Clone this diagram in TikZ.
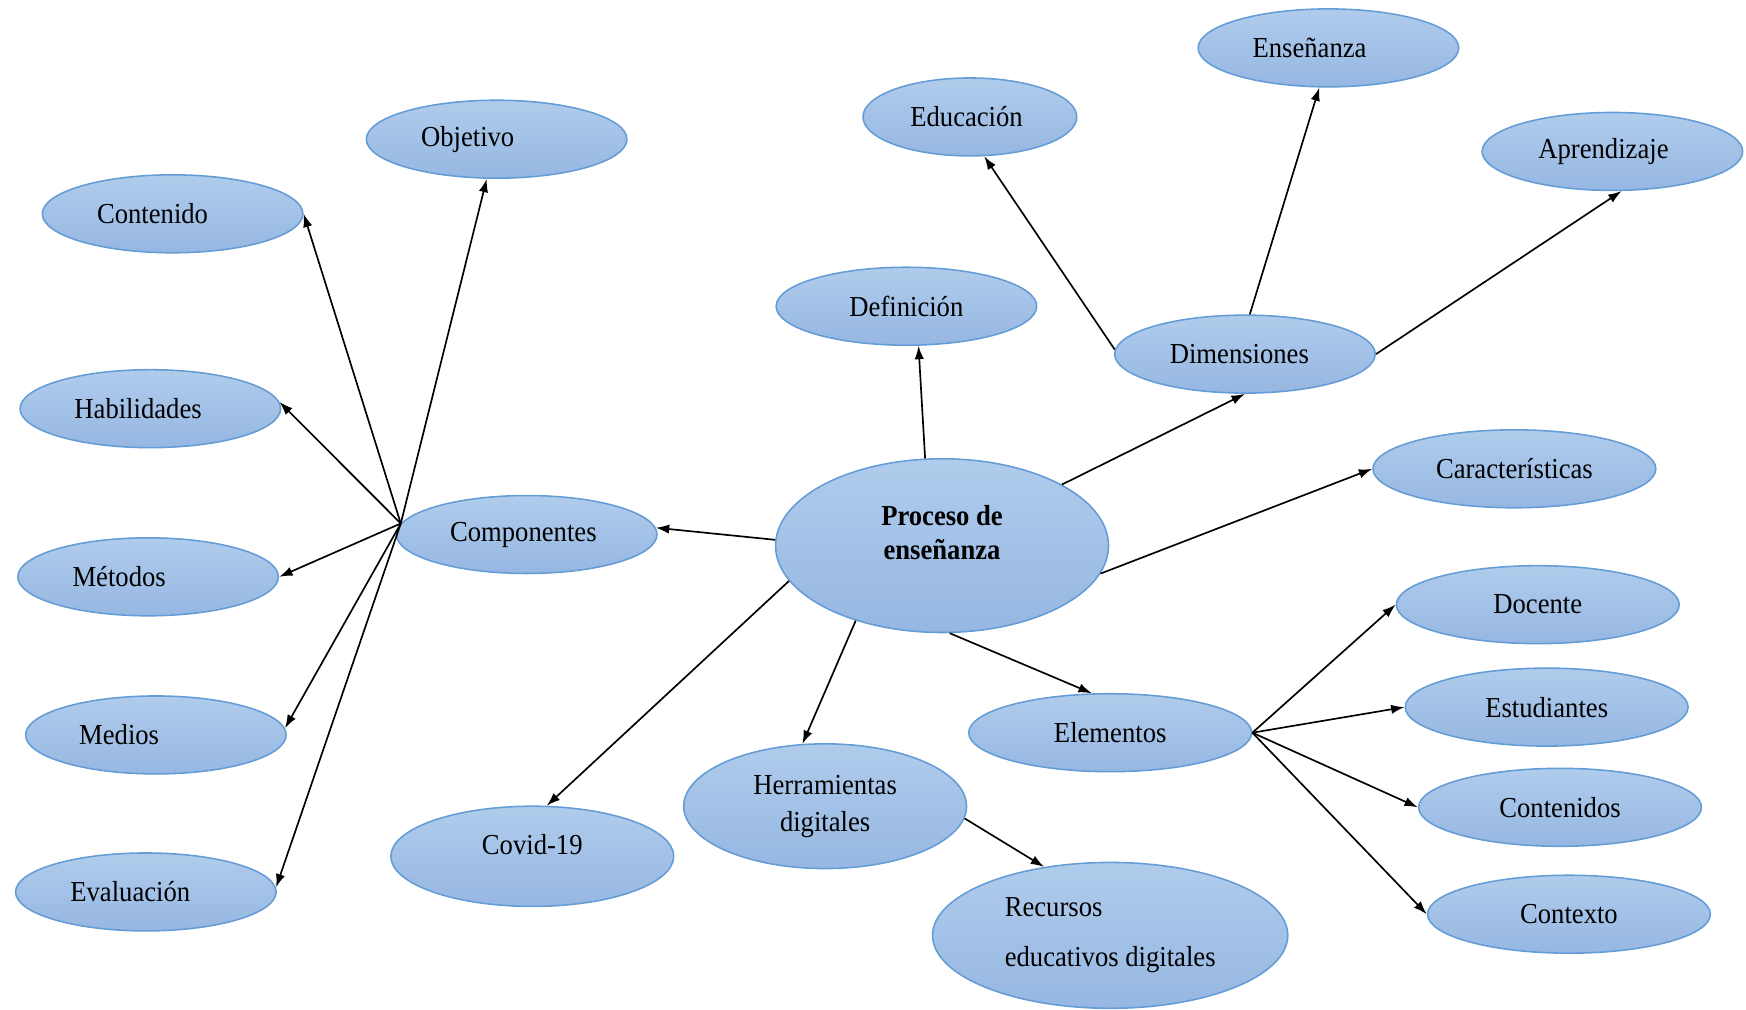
\documentclass[tikz,border=0pt]{standalone}
\usepackage{fontspec}
\setmainfont[FakeStretch=0.92]{Liberation Serif}
\usepackage{tikz}
\usetikzlibrary{shapes.geometric,arrows.meta}

\definecolor{bubline}{RGB}{100,156,214}
\definecolor{bubtop}{RGB}{176,204,236}
\definecolor{bubbot}{RGB}{150,183,226}

\newcommand{\lbl}[2]{\makebox[0pt]{\hspace*{#1}#2\hspace*{-#1}}}

\tikzset{
  bub/.style={ellipse, draw=bubline, line width=0.7pt, top color=bubtop, bottom color=bubbot,
    inner sep=0pt, minimum width=117pt, minimum height=35pt, font=\fontsize{13}{15}\selectfont},
  widebub/.style={bub, minimum width=127pt},
  link/.style={-{Latex[length=6pt,width=4.2pt]}, line width=0.75pt}
}

\begin{document}
\begin{tikzpicture}[x=0.5pt, y=-0.5pt]
    \useasboundingbox (0,0) rectangle (1568,907);

    \node[bub, minimum width=149.5pt, minimum height=78pt, align=center, text depth=12pt,
          font=\fontsize{13}{15}\selectfont\bfseries] (proc) at (846,490) {Proceso de\\enseñanza};

    \node[bub] (comp) at (473,480) {\lbl{-1.5pt}{Componentes}};
    \node[bub] (obj) at (446,125) {\lbl{-13pt}{Objetivo}};
    \node[bub] (cnt) at (155,192) {\lbl{-9pt}{Contenido}};
    \node[bub] (hab) at (135,367) {\lbl{-5.5pt}{Habilidades}};
    \node[bub] (met) at (133,518) {\lbl{-13pt}{Métodos}};
    \node[bub] (med) at (140,660) {\lbl{-16.5pt}{Medios}};
    \node[bub] (eva) at (131,801) {\lbl{-7pt}{Evaluación}};

    \node[widebub, minimum height=45pt, text depth=11pt] (covid) at (478,769) {Covid-19};
    \node[widebub, minimum height=56pt, align=center] (herr) at (741,724) {Herramientas\\[1.5pt]digitales};
    \node[bub, minimum width=159.5pt, minimum height=65.5pt, align=left] (rec) at (997,840) {Recursos\\[7.5pt]educativos digitales};

    \node[bub] (def) at (814,275) {Definición};
    \node[bub, minimum width=96pt] (edu) at (871,105) {\lbl{-1.5pt}{Educación}};
    \node[bub] (ens) at (1193,43) {\lbl{-8.5pt}{Enseñanza}};
    \node[bub] (apr) at (1448,136) {\lbl{-4pt}{Aprendizaje}};
    \node[bub] (dim) at (1118,318) {\lbl{-2.5pt}{Dimensiones}};
    \node[widebub] (car) at (1360,421) {Características};

    \node[widebub] (elem) at (997,658) {Elementos};
    \node[widebub] (doc) at (1381,543) {Docente};
    \node[widebub] (est) at (1389,635) {Estudiantes};
    \node[widebub] (cts) at (1401,725) {Contenidos};
    \node[widebub] (ctx) at (1409,821) {Contexto};

    \draw[link] (comp.175) -- (cnt.east);
    \draw[link] (comp.175) -- (obj.-104);
    \draw[link] (comp.175) -- (hab.3);
    \draw[link] (comp.175) -- (met.east);
    \draw[link] (comp.175) -- (med.3);
    \draw[link] (comp.175) -- (eva.2);

    \draw[link] (proc.178) -- (comp.3);
    \draw[link] (proc.101) -- (def.-73);
    \draw[link] (proc.27) -- (dim.south);
    \draw[link] (proc.-10) -- (car.west);
    \draw[link] (proc.-85) -- (elem.115);
    \draw[link] (proc.-139) -- (herr.110);
    \draw[link] (proc.-167) -- (covid.74);
    \draw[link] (herr.-5) -- (rec.134);

    \draw[link] (dim.178) -- (edu.-70);
    \draw[link] (dim.83) -- (ens.-103);
    \draw[link] (dim.east) -- (apr.-77);

    \draw[link] (elem.east) -- (doc.west);
    \draw[link] (elem.east) -- (est.west);
    \draw[link] (elem.east) -- (cts.west);
    \draw[link] (elem.east) -- (ctx.west);
\end{tikzpicture}
\end{document}
